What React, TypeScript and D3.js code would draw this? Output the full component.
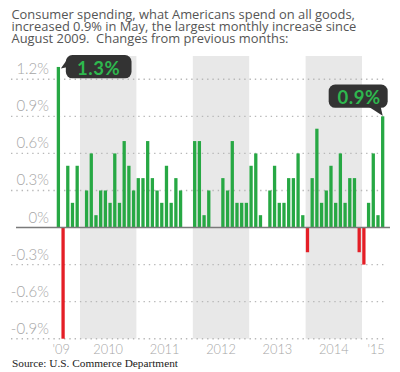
import React from 'react';
import * as d3 from 'd3';

// monthly % change in consumer spending on goods, Aug 2009 - May 2015
const values2009 = [1.3, -0.9, 0.5, 0.2, 0.5]; // Aug-Dec
const values2010 = [0, 0.3, 0.6, 0.1, 0.3, 0.3, 0.2, 0.6, 0.2, 0.7, 0.5, 0.3];
const values2011 = [0.4, 0.4, 0.7, 0.4, 0.3, 0.2, 0.5, 0.2, 0.4, 0.3, 0, 0];
const values2012 = [0.7, 0.7, 0.1, 0.3, 0, 0, 0.4, 0.3, 0.7, 0.2, 0.2, 0.2];
const values2013 = [0.5, 0.6, 0.1, 0, 0.3, 0.5, 0.2, 0.2, 0.4, 0.4, 0.6, 0.1];
const values2014 = [-0.2, 0.4, 0.8, 0.2, 0.3, 0.5, 0.2, 0.6, 0.2, 0.4, 0.4, -0.2];
const values2015 = [-0.3, 0.2, 0.6, 0.1, 0.9]; // Jan-May

const yTicks = [1.2, 0.9, 0.6, 0.3, 0, -0.3, -0.6, -0.9];
const yearLabels = ["'09", '2010', '2011', '2012', '2013', '2014', "'15"];
const yearLabelMonths = ['2009-09', '2010-07', '2011-07', '2012-07', '2013-07', '2014-07', '2015-04'];
const shadedYears = ['2010', '2012', '2014'];

const titleLines = [
  'Consumer spending, what Americans spend on all goods,',
  'increased 0.9% in May, the largest monthly increase since',
  'August 2009.\u00a0 Changes from previous months:',
];
const sourceText = 'Source: U.S. Commerce Department';

const calloutMonths = ['2009-08', '2015-05'];
const calloutLabels = ['1.3%', '0.9%'];

const fmtKey = d3.timeFormat('%Y-%m');
const months = d3.timeMonths(new Date(2009, 7, 1), new Date(2015, 5, 1)).map(fmtKey);
const values = [...values2009, ...values2010, ...values2011, ...values2012, ...values2013, ...values2014, ...values2015];
const data = months.map((m, i) => ({ month: m, value: values[i] }));

const GREEN = '#27a844';
const RED = '#e41e26';
const TICK_FONT = 'Lato, "Open Sans", sans-serif';

const App = () => {
  const x = d3.scaleBand<string>().domain(months).range([56.5, 385.5]);
  const step = x.step();
  const barInset = step * 0.05;
  const barW = step * 0.7;
  const y = d3.scaleLinear().domain([-0.9, 1.2]).range([338.7, 79.3]);
  const y0 = y(0);

  const tickLabel = (v: number) => (v === 0 ? '0%' : `${v.toFixed(1)}%`);

  // callout 1: to the right of the bar top
  const c1 = data.find(d => d.month === calloutMonths[0])!;
  const t1x = (x(c1.month) as number) + barInset + barW + 0.8;
  const t1y = y(c1.value) + 1.5;
  const r1 = { x: t1x + 5, y: t1y - 13.4, w: 65.7, h: 23.3 };

  // callout 2: above the bar, pointer at bottom right
  const c2 = data.find(d => d.month === calloutMonths[1])!;
  const t2x = (x(c2.month) as number) + barInset + barW / 2;
  const t2y = y(c2.value) - 0.5;
  const r2 = { x: t2x + 5 - 59, y: t2y - 8 - 23.3, w: 59, h: 23.3 };

  return (
    <svg width={400} height={372} style={{ position: 'absolute', left: 0, top: 0, background: '#fff' }}>
      <g fontFamily='"Open Sans", sans-serif' fontSize={12.9} fill="#555">
        {titleLines.map((t, i) => (
          <text key={i} x={11.5} y={18.6 + i * 12}>{t}</text>
        ))}
      </g>

      {shadedYears.map(yr => {
        const x0 = x(`${yr}-01`) as number;
        const x1 = (x(`${yr}-12`) as number) + step;
        return <rect key={yr} x={x0} y={56} width={x1 - x0} height={y(-0.9) - 56} fill="#e8e8e8" />;
      })}

      {yTicks.filter(v => v !== 0).map(v => (
        <line key={v} x1={11} x2={387} y1={y(v)} y2={y(v)} stroke="#b8b8b8" strokeWidth={1.4}
          strokeDasharray="1.4 3.9" />
      ))}

      <g fontFamily={TICK_FONT} fontWeight={300} fontSize={15} fill="#a6a6a6" textAnchor="end">
        {yTicks.map(v => (
          <text key={v} x={49} y={y(v) - 5}>{tickLabel(v)}</text>
        ))}
      </g>

      {data.filter(d => d.value !== 0).map(d => (
        <rect key={d.month}
          x={(x(d.month) as number) + barInset}
          y={d.value > 0 ? y(d.value) : y0}
          width={barW}
          height={Math.abs(y(d.value) - y0)}
          fill={d.value > 0 ? GREEN : RED} />
      ))}

      <line x1={16} x2={390} y1={y0} y2={y0} stroke="#7a7a7a" strokeWidth={1.4} />

      <g fontFamily={TICK_FONT} fontWeight={300} fontSize={12.8} fill="#a6a6a6" textAnchor="middle">
        {yearLabels.map((l, i) => (
          <text key={l} x={x(yearLabelMonths[i]) as number} y={353.5}>{l}</text>
        ))}
      </g>

      <g>
        <rect x={r1.x} y={r1.y} width={r1.w} height={r1.h} rx={6.5} fill="#333" />
        <polygon points={`${r1.x + 2},${t1y - 10} ${t1x},${t1y} ${r1.x + 2},${t1y - 1.5}`} fill="#333" />
        <text x={r1.x + r1.w / 2} y={r1.y + 19.5} textAnchor="middle" fontFamily={TICK_FONT}
          fontWeight={700} fontSize={18.5} letterSpacing={0.6} fill="#2eb84e">{calloutLabels[0]}</text>
      </g>
      <g>
        <rect x={r2.x} y={r2.y} width={r2.w} height={r2.h} rx={6.5} fill="#333" />
        <polygon points={`${r2.x + r2.w - 19},${r2.y + r2.h - 1} ${r2.x + r2.w - 7},${r2.y + r2.h - 1} ${t2x},${t2y}`} fill="#333" />
        <text x={r2.x + r2.w / 2 + 1} y={r2.y + 19.5} textAnchor="middle" fontFamily={TICK_FONT}
          fontWeight={700} fontSize={18.5} letterSpacing={0.6} fill="#2eb84e">{calloutLabels[1]}</text>
      </g>

      <text x={12} y={366.5} fontFamily='"Liberation Serif", "Times New Roman", serif' fontSize={11.3} fill="#222">
        {sourceText}
      </text>
    </svg>
  );
};

export default App;
